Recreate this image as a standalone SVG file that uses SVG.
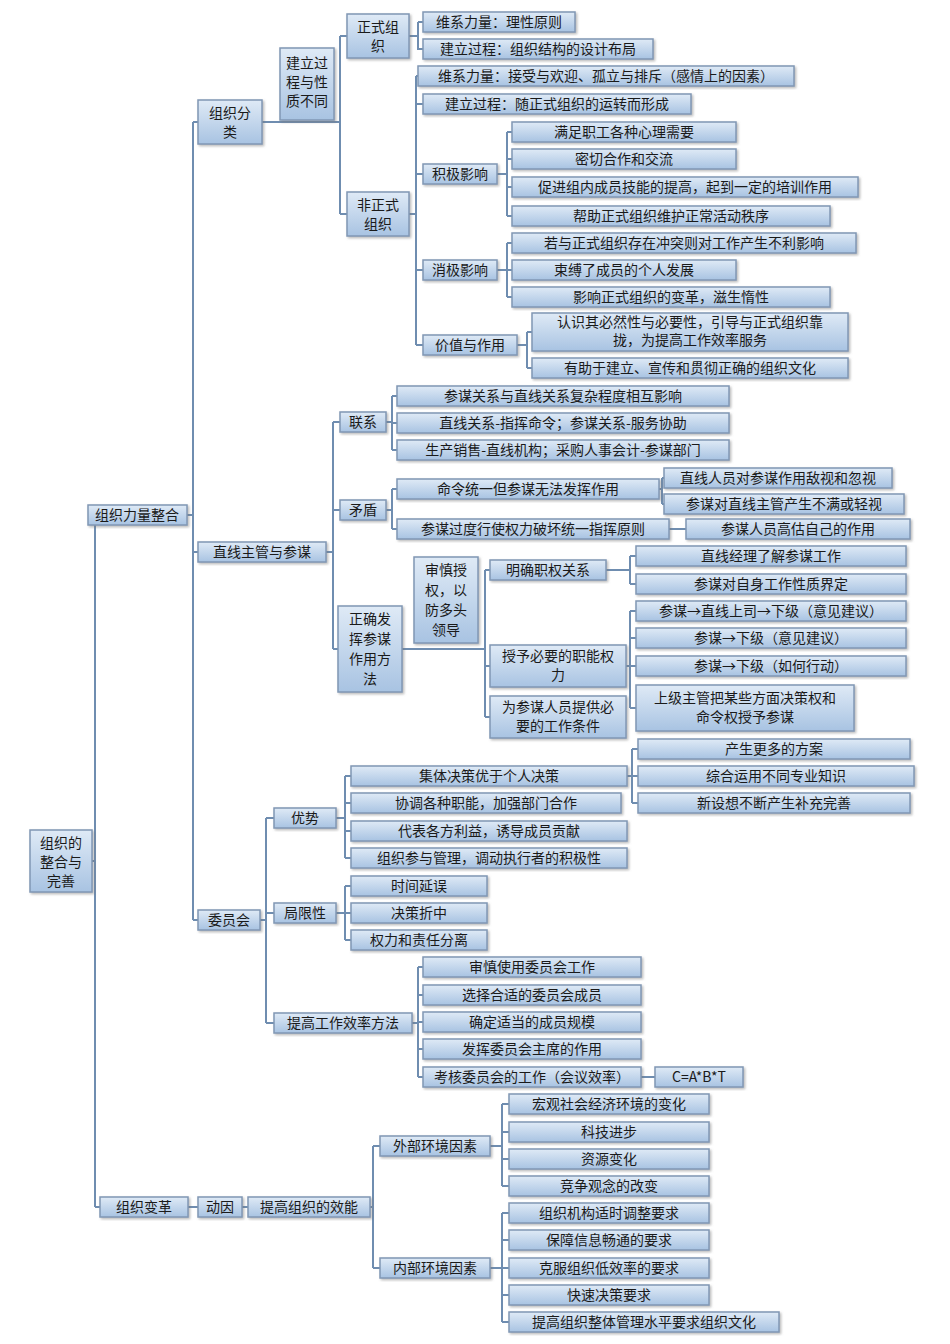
<svg xmlns="http://www.w3.org/2000/svg" width="950" height="1344" viewBox="0 0 950 1344">
<style>
rect{fill:url(#g);stroke:#8097b4;stroke-width:1.5;filter:url(#s)}
text{font-family:"Noto Sans CJK SC","Liberation Sans",sans-serif;font-size:14px;fill:#1a1a1a;text-anchor:middle}
#conn path{fill:none;stroke:#6f8db0;stroke-width:2}
</style>
<defs>
<linearGradient id="g" x1="0" y1="0" x2="0" y2="1"><stop offset="0" stop-color="#dfeaf6"/><stop offset="1" stop-color="#a8c3e2"/></linearGradient>
<filter id="s" x="-5%" y="-10%" width="115%" height="130%"><feDropShadow dx="1.5" dy="1.5" stdDeviation="0.8" flood-color="#777" flood-opacity="0.5"/></filter>
</defs>
<rect x="0" y="0" width="950" height="1344" style="fill:#fff;stroke:none;filter:none"/>
<g id="conn">
<path d="M92,861 H95 M95,515 V1207 M95,515 H88 M95,1207 H100"/>
<path d="M187,515 H193 M193,122 V920 M193,122 H198 M193,552 H198 M193,920 H198"/>
<path d="M262,122 H340 M340,36 V214 M340,36 H347 M340,214 H347"/>
<path d="M409,36 H418 M418,22 V49 H423 M418,22 H423"/>
<path d="M409,214 H416 M416,76 V345 M416,76 H418 M416,104 H423 M416,174 H423 M416,270 H423 M416,345 H423"/>
<path d="M497,174 H507 M507,132 V216 M507,132 H512 M507,159 H512 M507,187 H512 M507,216 H512"/>
<path d="M497,270 H507 M507,243 V297 M507,243 H512 M507,270 H512 M507,297 H512"/>
<path d="M517,345 H527 M527,332 V368 M527,332 H532 M527,368 H532"/>
<path d="M326,552 H333 M333,422 V649 M333,422 H340 M333,510 H340 M333,649 H338"/>
<path d="M386,422 H392 M392,396 V450 M392,396 H397 M392,423 H397 M392,450 H397"/>
<path d="M386,510 H392 M392,489 V529 M392,489 H397 M392,529 H397"/>
<path d="M659,489 H662 M662,478 V504 M662,478 H664 M662,504 H664"/>
<path d="M669,529 H686"/>
<path d="M402,649 H485 M485,570 V717 M485,570 H490 M485,666 H490 M485,717 H490"/>
<path d="M606,570 H630 M630,556 V584 M630,556 H636 M630,584 H636"/>
<path d="M626,666 H630 M630,611 V708 M630,611 H636 M630,638 H636 M630,666 H636 M630,708 H636"/>
<path d="M260,920 H266 M266,818 V1023 M266,818 H274 M266,913 H274 M266,1023 H274"/>
<path d="M336,818 H345 M345,776 V858 M345,776 H351 M345,803 H351 M345,831 H351 M345,858 H351"/>
<path d="M627,776 H632 M632,749 V803 M632,749 H638 M632,776 H638 M632,803 H638"/>
<path d="M336,913 H345 M345,886 V940 M345,886 H351 M345,913 H351 M345,940 H351"/>
<path d="M412,1023 H418 M418,967 V1077 M418,967 H423 M418,995 H423 M418,1022 H423 M418,1049 H423 M418,1077 H423"/>
<path d="M641,1077 H655"/>
<path d="M188,1207 H198 M242,1207 H248 M370,1207 H373 M373,1146 V1268 M373,1146 H380 M373,1268 H380"/>
<path d="M490,1146 H502 M502,1104 V1186 M502,1104 H509 M502,1132 H509 M502,1159 H509 M502,1186 H509"/>
<path d="M490,1268 H502 M502,1213 V1322 M502,1213 H509 M502,1240 H509 M502,1268 H509 M502,1295 H509 M502,1322 H509"/>
</g>
<g id="root"><rect x="30" y="830" width="62" height="62"/><text x="61" y="848"><tspan x="61">组织的</tspan><tspan x="61" dy="19">整合与</tspan><tspan x="61" dy="19">完善</tspan></text></g>
<g id="n_zzllzh"><rect x="88" y="505" width="99" height="20"/><text x="137" y="520">组织力量整合</text></g>
<g id="n_zzbg"><rect x="100" y="1197" width="88" height="20"/><text x="144" y="1212">组织变革</text></g>
<g id="n_zzfl"><rect x="198" y="100" width="64" height="44"/><text x="230" y="118"><tspan x="230">组织分</tspan><tspan x="230" dy="19">类</tspan></text></g>
<g id="n_jlgc"><rect x="280" y="48" width="54" height="72"/><text x="307" y="68"><tspan x="307">建立过</tspan><tspan x="307" dy="19">程与性</tspan><tspan x="307" dy="19">质不同</tspan></text></g>
<g id="n_zszz"><rect x="347" y="14" width="62" height="44"/><text x="378" y="32"><tspan x="378">正式组</tspan><tspan x="378" dy="19">织</tspan></text></g>
<g id="n_fzszz"><rect x="347" y="192" width="62" height="44"/><text x="378" y="210"><tspan x="378">非正式</tspan><tspan x="378" dy="19">组织</tspan></text></g>
<g id="n1"><rect x="423" y="12" width="152" height="20"/><text x="499" y="27">维系力量：理性原则</text></g>
<g id="n2"><rect x="423" y="39" width="230" height="20"/><text x="538" y="54">建立过程：组织结构的设计布局</text></g>
<g id="n3"><rect x="418" y="66" width="376" height="20"/><text x="606" y="81">维系力量：接受与欢迎、孤立与排斥（感情上的因素）</text></g>
<g id="n4"><rect x="423" y="94" width="268" height="20"/><text x="557" y="109">建立过程：随正式组织的运转而形成</text></g>
<g id="n_jjyx"><rect x="423" y="164" width="74" height="20"/><text x="460" y="179">积极影响</text></g>
<g id="n5"><rect x="512" y="122" width="224" height="20"/><text x="624" y="137">满足职工各种心理需要</text></g>
<g id="n6"><rect x="512" y="149" width="224" height="20"/><text x="624" y="164">密切合作和交流</text></g>
<g id="n7"><rect x="512" y="177" width="346" height="20"/><text x="685" y="192">促进组内成员技能的提高，起到一定的培训作用</text></g>
<g id="n8"><rect x="512" y="206" width="318" height="20"/><text x="671" y="221">帮助正式组织维护正常活动秩序</text></g>
<g id="n_xjyx"><rect x="423" y="260" width="74" height="20"/><text x="460" y="275">消极影响</text></g>
<g id="n9"><rect x="512" y="233" width="344" height="20"/><text x="684" y="248">若与正式组织存在冲突则对工作产生不利影响</text></g>
<g id="n10"><rect x="512" y="260" width="224" height="20"/><text x="624" y="275">束缚了成员的个人发展</text></g>
<g id="n11"><rect x="512" y="287" width="318" height="20"/><text x="671" y="302">影响正式组织的变革，滋生惰性</text></g>
<g id="n_jzyzy"><rect x="423" y="335" width="94" height="20"/><text x="470" y="350">价值与作用</text></g>
<g id="n12"><rect x="532" y="313" width="316" height="38"/><text x="690" y="327"><tspan x="690">认识其必然性与必要性，引导与正式组织靠</tspan><tspan x="690" dy="18">拢，为提高工作效率服务</tspan></text></g>
<g id="n13"><rect x="532" y="358" width="316" height="20"/><text x="690" y="373">有助于建立、宣传和贯彻正确的组织文化</text></g>
<g id="n_zxzg"><rect x="198" y="542" width="128" height="20"/><text x="262" y="557">直线主管与参谋</text></g>
<g id="n_lx"><rect x="340" y="412" width="46" height="20"/><text x="363" y="427">联系</text></g>
<g id="n14"><rect x="397" y="386" width="332" height="20"/><text x="563" y="401">参谋关系与直线关系复杂程度相互影响</text></g>
<g id="n15"><rect x="397" y="413" width="332" height="20"/><text x="563" y="428">直线关系-指挥命令；参谋关系-服务协助</text></g>
<g id="n16"><rect x="397" y="440" width="332" height="20"/><text x="563" y="455">生产销售-直线机构；采购人事会计-参谋部门</text></g>
<g id="n_md"><rect x="340" y="500" width="46" height="20"/><text x="363" y="515">矛盾</text></g>
<g id="n17"><rect x="397" y="479" width="262" height="20"/><text x="528" y="494">命令统一但参谋无法发挥作用</text></g>
<g id="n18"><rect x="664" y="468" width="228" height="20"/><text x="778" y="483">直线人员对参谋作用敌视和忽视</text></g>
<g id="n19"><rect x="664" y="494" width="240" height="20"/><text x="784" y="509">参谋对直线主管产生不满或轻视</text></g>
<g id="n20"><rect x="397" y="519" width="272" height="20"/><text x="533" y="534">参谋过度行使权力破坏统一指挥原则</text></g>
<g id="n21"><rect x="686" y="519" width="224" height="20"/><text x="798" y="534">参谋人员高估自己的作用</text></g>
<g id="n_zqfh"><rect x="338" y="606" width="64" height="86"/><text x="370" y="624"><tspan x="370">正确发</tspan><tspan x="370" dy="20">挥参谋</tspan><tspan x="370" dy="20">作用方</tspan><tspan x="370" dy="20">法</tspan></text></g>
<g id="n_ssqq"><rect x="414" y="557" width="64" height="86"/><text x="446" y="575"><tspan x="446">审慎授</tspan><tspan x="446" dy="20">权，以</tspan><tspan x="446" dy="20">防多头</tspan><tspan x="446" dy="20">领导</tspan></text></g>
<g id="n22"><rect x="490" y="560" width="116" height="20"/><text x="548" y="575">明确职权关系</text></g>
<g id="n23"><rect x="636" y="546" width="270" height="20"/><text x="771" y="561">直线经理了解参谋工作</text></g>
<g id="n24"><rect x="636" y="574" width="270" height="20"/><text x="771" y="589">参谋对自身工作性质界定</text></g>
<g id="n25"><rect x="490" y="645" width="136" height="42"/><text x="558" y="661"><tspan x="558">授予必要的职能权</tspan><tspan x="558" dy="19">力</tspan></text></g>
<g id="n26"><rect x="636" y="601" width="270" height="20"/><text x="771" y="616">参谋→直线上司→下级（意见建议）</text></g>
<g id="n27"><rect x="636" y="628" width="270" height="20"/><text x="771" y="643">参谋→下级（意见建议）</text></g>
<g id="n28"><rect x="636" y="656" width="270" height="20"/><text x="771" y="671">参谋→下级（如何行动）</text></g>
<g id="n29"><rect x="636" y="685" width="218" height="46"/><text x="745" y="703"><tspan x="745">上级主管把某些方面决策权和</tspan><tspan x="745" dy="19">命令权授予参谋</tspan></text></g>
<g id="n30"><rect x="490" y="696" width="136" height="42"/><text x="558" y="712"><tspan x="558">为参谋人员提供必</tspan><tspan x="558" dy="19">要的工作条件</tspan></text></g>
<g id="n_wyh"><rect x="198" y="910" width="62" height="20"/><text x="229" y="925">委员会</text></g>
<g id="n_ys"><rect x="274" y="808" width="62" height="20"/><text x="305" y="823">优势</text></g>
<g id="n31"><rect x="351" y="766" width="276" height="20"/><text x="489" y="781">集体决策优于个人决策</text></g>
<g id="n32"><rect x="638" y="739" width="272" height="20"/><text x="774" y="754">产生更多的方案</text></g>
<g id="n33"><rect x="638" y="766" width="276" height="20"/><text x="776" y="781">综合运用不同专业知识</text></g>
<g id="n34"><rect x="638" y="793" width="272" height="20"/><text x="774" y="808">新设想不断产生补充完善</text></g>
<g id="n35"><rect x="351" y="793" width="270" height="20"/><text x="486" y="808">协调各种职能，加强部门合作</text></g>
<g id="n36"><rect x="351" y="821" width="276" height="20"/><text x="489" y="836">代表各方利益，诱导成员贡献</text></g>
<g id="n37"><rect x="351" y="848" width="276" height="20"/><text x="489" y="863">组织参与管理，调动执行者的积极性</text></g>
<g id="n_jxx"><rect x="274" y="903" width="62" height="20"/><text x="305" y="918">局限性</text></g>
<g id="n38"><rect x="351" y="876" width="136" height="20"/><text x="419" y="891">时间延误</text></g>
<g id="n39"><rect x="351" y="903" width="136" height="20"/><text x="419" y="918">决策折中</text></g>
<g id="n40"><rect x="351" y="930" width="136" height="20"/><text x="419" y="945">权力和责任分离</text></g>
<g id="n_tg"><rect x="274" y="1013" width="138" height="20"/><text x="343" y="1028">提高工作效率方法</text></g>
<g id="n41"><rect x="423" y="957" width="218" height="20"/><text x="532" y="972">审慎使用委员会工作</text></g>
<g id="n42"><rect x="423" y="985" width="218" height="20"/><text x="532" y="1000">选择合适的委员会成员</text></g>
<g id="n43"><rect x="423" y="1012" width="218" height="20"/><text x="532" y="1027">确定适当的成员规模</text></g>
<g id="n44"><rect x="423" y="1039" width="218" height="20"/><text x="532" y="1054">发挥委员会主席的作用</text></g>
<g id="n45"><rect x="423" y="1067" width="218" height="20"/><text x="532" y="1082">考核委员会的工作（会议效率）</text></g>
<g id="n46"><rect x="655" y="1067" width="88" height="20"/><text x="699" y="1082">C=A*B*T</text></g>
<g id="n_dy"><rect x="198" y="1197" width="44" height="20"/><text x="220" y="1212">动因</text></g>
<g id="n_tgxn"><rect x="248" y="1197" width="122" height="20"/><text x="309" y="1212">提高组织的效能</text></g>
<g id="n_wb"><rect x="380" y="1136" width="110" height="20"/><text x="435" y="1151">外部环境因素</text></g>
<g id="n47"><rect x="509" y="1094" width="200" height="20"/><text x="609" y="1109">宏观社会经济环境的变化</text></g>
<g id="n48"><rect x="509" y="1122" width="200" height="20"/><text x="609" y="1137">科技进步</text></g>
<g id="n49"><rect x="509" y="1149" width="200" height="20"/><text x="609" y="1164">资源变化</text></g>
<g id="n50"><rect x="509" y="1176" width="200" height="20"/><text x="609" y="1191">竞争观念的改变</text></g>
<g id="n_nb"><rect x="380" y="1258" width="110" height="20"/><text x="435" y="1273">内部环境因素</text></g>
<g id="n51"><rect x="509" y="1203" width="200" height="20"/><text x="609" y="1218">组织机构适时调整要求</text></g>
<g id="n52"><rect x="509" y="1230" width="200" height="20"/><text x="609" y="1245">保障信息畅通的要求</text></g>
<g id="n53"><rect x="509" y="1258" width="200" height="20"/><text x="609" y="1273">克服组织低效率的要求</text></g>
<g id="n54"><rect x="509" y="1285" width="200" height="20"/><text x="609" y="1300">快速决策要求</text></g>
<g id="n55"><rect x="509" y="1312" width="270" height="20"/><text x="644" y="1327">提高组织整体管理水平要求组织文化</text></g>
</svg>
